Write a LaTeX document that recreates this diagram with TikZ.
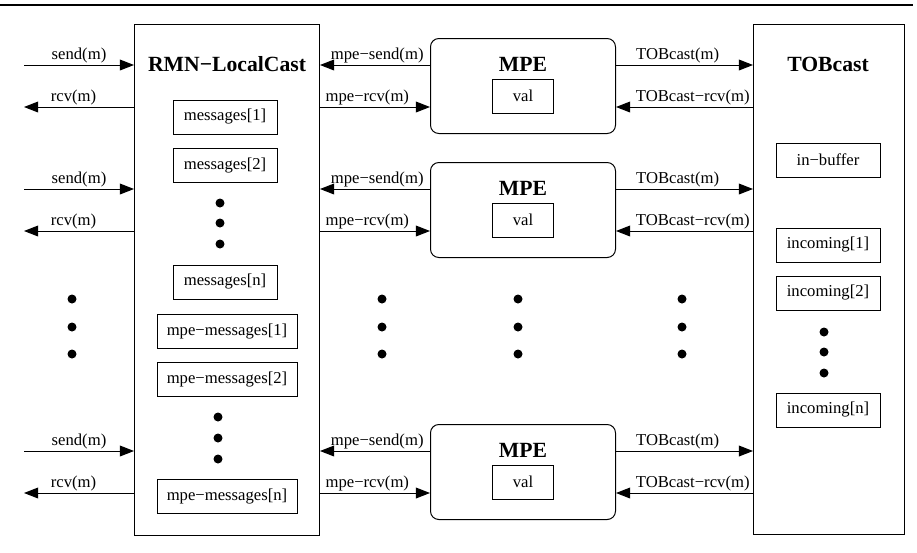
\documentclass[tikz,border=0pt]{standalone}
\usepackage{fontspec}
\setmainfont{Liberation Serif}
\usetikzlibrary{positioning,arrows.meta}

\tikzset{
  bigbox/.style={draw, line width=0.6pt, inner sep=0pt, anchor=north west},
  mpebox/.style={draw, line width=0.6pt, rounded corners=5pt, inner sep=0pt, anchor=north west, minimum width=111pt, minimum height=57pt},
  cell/.style={draw, line width=0.6pt, inner sep=0pt, minimum height=20.4pt, font=\fontsize{10}{12}\selectfont},
  title/.style={inner sep=0pt, font=\fontsize{13}{15}\selectfont\bfseries},
  arr/.style={line width=0.6pt, -{Triangle[length=8.5pt,width=6.5pt]}},
  lbl/.style={above, inner sep=1pt, font=\fontsize{10}{12}\selectfont},
  dot/.style={circle, fill, inner sep=0pt, minimum size=5.4pt}
}

\begin{document}
\begin{tikzpicture}[x=0.6pt,y=-0.6pt]
  \useasboundingbox (0,0) rectangle (917,552);
  \coordinate (ruleL) at (0,5);
  \coordinate (ruleR) at (913,5);
  \draw[line width=1.6pt] (ruleL) -- (ruleR);

  % RMN-LocalCast
  \node[bigbox, minimum width=111pt, minimum height=306.6pt] (rmn) at (134,24) {};
  \node[title] (rmntitle) at (227,64) {RMN−LocalCast};
  \node[cell, minimum width=62.4pt] (msg1) at (225,117) {messages[1]};
  \node[cell, minimum width=62.4pt] (msg2) at (225,165.5) {messages[2]};
  \node[cell, minimum width=62.4pt] (msgn) at (225,282) {messages[n]};
  \node[cell, minimum width=84pt] (mpemsg1) at (227,331.5) {mpe−messages[1]};
  \node[cell, minimum width=84pt] (mpemsg2) at (227,379.5) {mpe−messages[2]};
  \node[cell, minimum width=84pt] (mpemsgn) at (227,496.5) {mpe−messages[n]};

  % TOBcast
  \node[bigbox, minimum width=90.6pt, minimum height=306pt] (tob) at (753,24) {};
  \node[title] (tobtitle) at (828,64) {TOBcast};
  \node[cell, minimum width=62.4pt] (inbuf) at (828,160) {in−buffer};
  \node[cell, minimum width=62.4pt] (inc1) at (828,245) {incoming[1]};
  \node[cell, minimum width=62.4pt] (inc2) at (828,293) {incoming[2]};
  \node[cell, minimum width=62.4pt] (incn) at (828,410) {incoming[n]};

  % MPE rows
  \foreach \i/\t in {1/38,2/162,3/424} {
    \node[mpebox] (mpe\i) at (430,\t) {};
    \node[title] (mpetitle\i) at ([yshift=-15.6pt]mpe\i.north) {MPE};
    \node[cell, minimum width=37pt] (val\i) at ([yshift=-34.8pt]mpe\i.north) {val};
    \coordinate (snd\i) at (24,\t+27);
    \coordinate (rcv\i) at (24,\t+69);

    %user>rmn
    \draw[arr] (snd\i) -- (snd\i -| rmn.west) node[lbl, midway] {send(m)};
    \draw[arr] (rcv\i -| rmn.west) -- (rcv\i) node[lbl, pos=0.55] {rcv(m)};
    %mpe<>rmn
    \draw[arr] (snd\i -| mpe\i.west) -- (snd\i -| rmn.east) node[lbl, pos=0.48] {mpe−send(m)};
    \draw[arr] (rcv\i -| rmn.east) -- (rcv\i -| mpe\i.west) node[lbl, pos=0.43] {mpe−rcv(m)};
    %mpe<>tob
    \draw[arr] (snd\i -| mpe\i.east) -- (snd\i -| tob.west) node[lbl, pos=0.45] {TOBcast(m)};
    \draw[arr] (rcv\i -| tob.west) -- (rcv\i -| mpe\i.east) node[lbl, pos=0.44] {TOBcast−rcv(m)};
  }

  % dots
  \foreach \x in {72,382,518,682}
    \foreach \y in {299,327,354}
      \node[dot] at (\x,\y) {};
  \foreach \y in {203,223,244} \node[dot] at (220,\y) {};
  \foreach \y in {417,438,459} \node[dot] at (218,\y) {};
  \foreach \y in {332,352,373} \node[dot] at (824,\y) {};
\end{tikzpicture}
\end{document}
